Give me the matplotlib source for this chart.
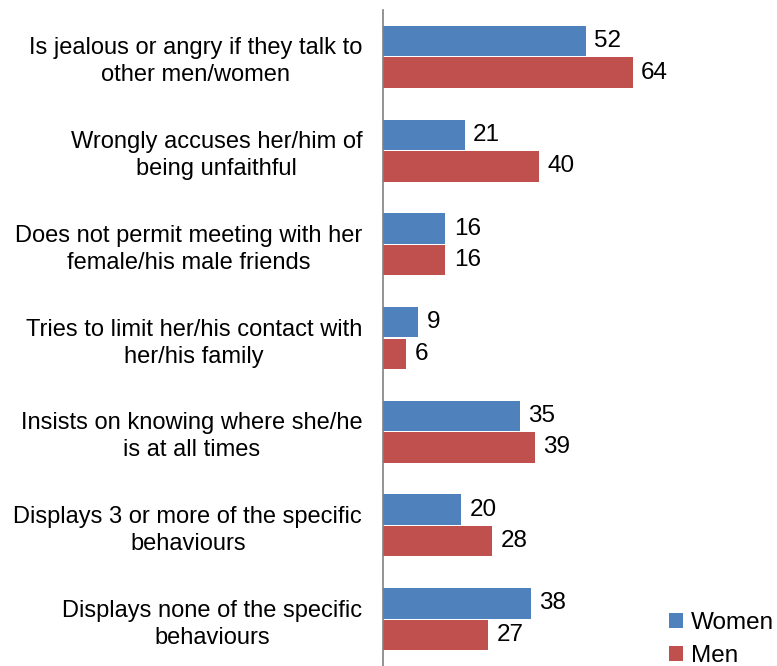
import matplotlib.pyplot as plt
import numpy as np

plt.rcParams['font.family'] = ['Liberation Sans', 'DejaVu Sans']

# Data
categories = [
    'Is jealous or angry if they talk to\nother men/women',
    'Wrongly accuses her/him of\nbeing unfaithful',
    'Does not permit meeting with her\nfemale/his male friends',
    'Tries to limit her/his contact with\nher/his family',
    'Insists on knowing where she/he\nis at all times',
    'Displays 3 or more of the specific\nbehaviours',
    'Displays none of the specific\nbehaviours',
]
women = [52, 21, 16, 9, 35, 20, 38]
men = [64, 40, 16, 6, 39, 28, 27]

blue = '#4F81BD'
red = '#C0504D'

fig = plt.figure(figsize=(7.77, 6.66), dpi=100)
ax = fig.add_axes([383 / 777, 0, 273 / 777, 656 / 666])

y = np.arange(len(categories))
h = 0.325
off = 0.168
bw = ax.barh(y - off, women, height=h, color=blue, label='Women')
bm = ax.barh(y + off, men, height=h, color=red, label='Men')

for bars, vals in [(bw, women), (bm, men)]:
    for b, v in zip(bars, vals):
        ax.annotate(str(v), (b.get_width(), b.get_y() + b.get_height() / 2),
                    xytext=(6, 0), textcoords='offset points',
                    va='center', ha='left', fontsize=17.5)

ax.set_xlim(0, 70)
ax.set_ylim(len(categories) - 0.5, -0.5)
ax.set_yticks(y)
ax.set_yticklabels(categories, fontsize=17, multialignment='center',
                   linespacing=1.3)
ax.tick_params(axis='y', length=0, pad=15)
ax.set_xticks([])
for s in ['top', 'right', 'bottom']:
    ax.spines[s].set_visible(False)
ax.spines['left'].set_color('#808080')
ax.spines['left'].set_linewidth(1.2)

fig.legend(handles=[bw, bm], loc='lower left', bbox_to_anchor=(659 / 777, -0.016),
           frameon=False, fontsize=17.5, handlelength=0.6, handleheight=0.6,
           handletextpad=0.3, labelspacing=0.45, borderaxespad=0)

fig.savefig('out.png', dpi=100)
